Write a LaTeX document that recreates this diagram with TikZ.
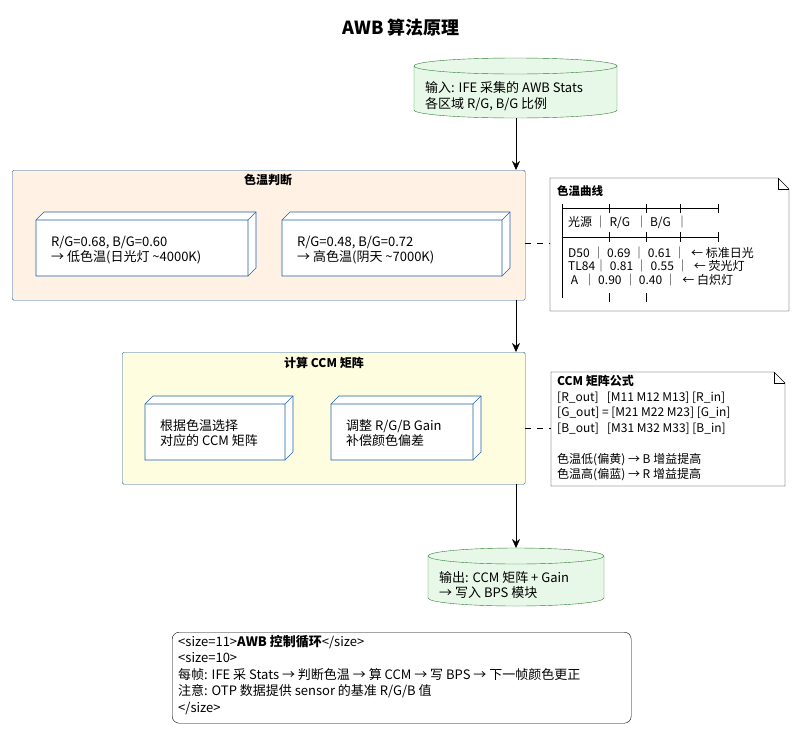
\documentclass[tikz,border=0pt]{standalone}
\usepackage{fontspec}
\setmainfont{Noto Sans CJK SC}
\usetikzlibrary{arrows.meta}
\definecolor{bl}{HTML}{1F5FA8}
\definecolor{gr}{HTML}{2E7D32}
\definecolor{gf}{HTML}{E8F8E8}
\tikzset{
 pkg/.style={draw=bl,rounded corners=1.5pt},
 txt/.style={align=left,anchor=west,font=\fontsize{13}{15.5}\selectfont,inner sep=0pt},
 arr/.style={-{Stealth[length=9pt,width=8pt]},black},
 dsh/.style={dashed,dash pattern=on 6pt off 6pt},
 db/.style={draw=gr,fill=gf},
}
\begin{document}
\begin{tikzpicture}[x=1pt,y=-1pt]
\useasboundingbox (0,0) rectangle (802,734);
\node[font=\bfseries\fontsize{18}{20}\selectfont] (title) at (401,28) {AWB 算法原理};
% db1
\path[db] (414,66) arc[start angle=180,end angle=360,x radius=101.5,y radius=8] -- (617,110) arc[start angle=0,end angle=180,x radius=101.5,y radius=8] -- cycle;
\draw[gr] (414,66) arc[start angle=180,end angle=360,x radius=101.5,y radius=-8];
\coordinate (db1b) at (516,118);
\node[txt] (db1t) at (425,96) {输入: IFE 采集的 AWB Stats\\各区域 R/G, B/G 比例};
% pkg1
\node[pkg,fill=orange!10!white,minimum width=513,minimum height=130,anchor=north west] (p1) at (12,170) {};
\node[font=\bfseries\fontsize{12}{14}\selectfont] at (268,180) {色温判断};
\foreach \n/\x/\w/\t in {a/36/212/{R/G=0.68, B/G=0.60\\→ 低色温(日光灯 \textasciitilde4000K)},b/282/220/{R/G=0.48, B/G=0.72\\→ 高色温(阴天 \textasciitilde7000K)}}{
 \draw[bl,fill=white,semithick] (\x,220) -- (\x+8,212) -- (\x+\w+8,212) -- (\x+\w+8,268) -- (\x+\w,276) -- (\x,276) -- cycle;
 \draw[bl,semithick] (\x,220) -- (\x+\w,220) -- (\x+\w+8,212) (\x+\w,220) -- (\x+\w,276);
 \node[txt] (b\n) at (\x+15,250) {\t};
}
% note1
\fill[white] (550,178) rectangle (789,311);
\draw (550,178) -- (778,178) -- (789,189) -- (789,311) -- (550,311) -- cycle;
\draw (778,178) -- (778,189) -- (789,189);
\coordinate (n1w) at (550,243);
\node[anchor=west,inner sep=0pt,font=\bfseries\fontsize{11.5}{13}\selectfont] at (557,191) {色温曲线};
\draw (562,208) -- (718,208) (562,237) -- (718,237);
\foreach \xx in {562,609,646,680,718} \draw (\xx,204) -- (\xx,213) (\xx,232) -- (\xx,242);
\draw (562,204) -- (562,298);
\draw (609,293) -- (609,302) (646,293) -- (646,302);
\node[txt,font=\fontsize{12}{13.5}\selectfont] at (568,222) {光源 │ R/G \ │ B/G \ │};
\node[txt,font=\fontsize{12}{13.5}\selectfont] at (568,266) {D50 │ 0.69 │ 0.61 │ \ ← 标准日光\\TL84│ 0.81 │ 0.55 │ \ ← 荧光灯\\ \ A \ │ 0.90 │ 0.40 │ \ ← 白炽灯};
% pkg2
\node[pkg,fill=yellow!12!white,minimum width=403,minimum height=132,anchor=north west] (p2) at (122,352) {};
\node[font=\bfseries\fontsize{12}{14}\selectfont] at (324,363) {计算 CCM 矩阵};
\foreach \n/\x/\w/\t in {c/145/140/{根据色温选择\\对应的 CCM 矩阵},d/331/142/{调整 R/G/B Gain\\补偿颜色偏差}}{
 \draw[bl,fill=white,semithick] (\x,404) -- (\x+8,396) -- (\x+\w+8,396) -- (\x+\w+8,452) -- (\x+\w,460) -- (\x,460) -- cycle;
 \draw[bl,semithick] (\x,404) -- (\x+\w,404) -- (\x+\w+8,396) (\x+\w,404) -- (\x+\w,460);
 \node[txt] (b\n) at (\x+15,433) {\t};
}
% note2
\fill[white] (551,372) rectangle (785,486);
\draw (551,372) -- (774,372) -- (785,383) -- (785,486) -- (551,486) -- cycle;
\draw (774,372) -- (774,383) -- (785,383);
\coordinate (n2w) at (551,428);
\node[anchor=north west,align=left,inner sep=0pt,font=\fontsize{12}{15.5}\selectfont] (n2) at (557,375) {\textbf{CCM 矩阵公式}\\{}[R\_out] \ \ [M11 M12 M13] [R\_in]\\{}[G\_out] = [M21 M22 M23] [G\_in]\\{}[B\_out] \ \ [M31 M32 M33] [B\_in]\\[15.5pt]色温低(偏黄) → B 增益提高\\色温高(偏蓝) → R 增益提高};
% db2
\path[db] (428,556) arc[start angle=180,end angle=360,x radius=88,y radius=8] -- (604,598) arc[start angle=0,end angle=180,x radius=88,y radius=8] -- cycle;
\draw[gr] (428,556) arc[start angle=180,end angle=360,x radius=88,y radius=-8];
\coordinate (db2t) at (516,548);
\node[txt] at (439,585) {输出: CCM 矩阵 + Gain\\→ 写入 BPS 模块};
% bottom
\node[draw,rounded corners=7pt,minimum width=459,minimum height=91,anchor=north west] (bt) at (172,632) {};
\node[anchor=north west,align=left,inner sep=0pt,font=\fontsize{13}{16.5}\selectfont] at (178,635) {<size=11>\textbf{AWB 控制循环}</size>\\<size=10>\\每帧: IFE 采 Stats → 判断色温 → 算 CCM → 写 BPS → 下一帧颜色更正\\注意: OTP 数据提供 sensor 的基准 R/G/B 值\\</size>};
% arrows
\draw[arr] (db1b) -- (p1.north -| db1b);
\draw[arr] (p1.south -| db1b) -- (p2.north -| db1b);
\draw[arr] (p2.south -| db1b) -- (db2t);
\draw[dsh] (p1.east |- n1w) -- (n1w);
\draw[dsh] (p2.east |- n2w) -- (n2w);
\end{tikzpicture}
\end{document}
